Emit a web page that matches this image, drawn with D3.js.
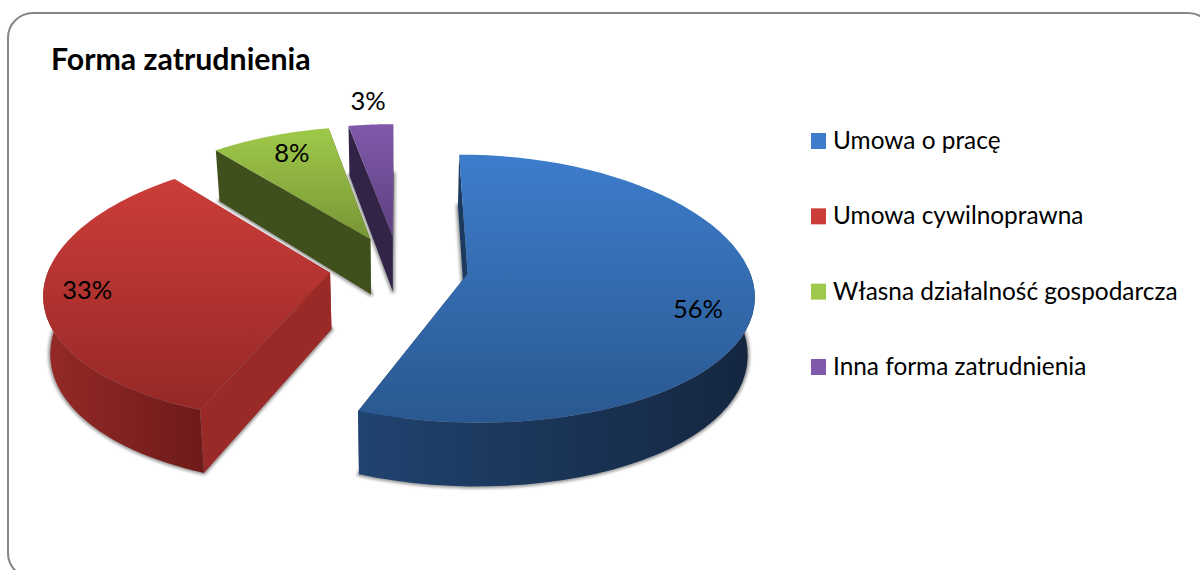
<!DOCTYPE html>
<html>
<head>
<meta charset="utf-8">
<script src="https://cdn.jsdelivr.net/npm/d3@7"></script>
<style>
    html, body { margin: 0; padding: 0; background: #fff; overflow: hidden; }
    text { font-family: Lato, "Open Sans", sans-serif; fill: #000; }
</style>
</head>
<body>
<div id="chart"></div>
<script>
// Data
var chartTitle = "Forma zatrudnienia";
var categories = ["Umowa o pracę", "Umowa cywilnoprawna", "Własna działalność gospodarcza", "Inna forma zatrudnienia"];
var shares = [56, 33, 8, 3];
var shareLabels = ["56%", "33%", "8%", "3%"];

// Colours per slice: top gradient start/end, flat side wall
var topLight = ["#3d7dcc", "#cc3d39", "#9fc94a", "#8059aa"];
var topDark = ["#2a5890", "#952826", "#789636", "#5e4080"];
var wallColors = ["#1c3a60", "#9a2a28", "#40501c", "#322446"];
var rimLeft = ["#20436f", "#952a27", "#40501c", "#322446"];
var rimRight = ["#14263f", "#6e1b1a", "#40501c", "#322446"];

// Label placement: fraction of radius, then a nudge in px
var labelRadius = [0.82, 0.88, 0.7, 1.15];
var labelNudge = [[-4, 15], [9, -1], [-6, -12], [0, -9]];

// Define SVG area dimensions
var svgWidth = 1200;
var svgHeight = 570;

// Pseudo-3D camera numbers fitted to the picture
var centerX = 399;
var centerY = 267.7;
var radiusX = 281;
var radiusY = 131;
var perspX = 0.14;
var perspY = 0.11;
var explode = 0.247;
var depth = 56.5;
var bottomShrink = 0.98;

var svg = d3.select("#chart")
    .append("svg")
    .attr("width", svgWidth)
    .attr("height", svgHeight);

var defs = svg.append("defs");

defs.append("filter")
    .attr("id", "soft")
    .attr("x", "-10%").attr("y", "-10%")
    .attr("width", "120%").attr("height", "120%")
    .append("feGaussianBlur")
    .attr("stdDeviation", 1.6);

// chart frame, runs off the right and bottom of the page
svg.append("rect")
    .attr("x", 8)
    .attr("y", 13)
    .attr("width", 1205)
    .attr("height", 565)
    .attr("rx", 25)
    .attr("fill", "#fff")
    .attr("stroke", "#868686")
    .attr("stroke-width", 2);

svg.append("text")
    .attr("x", 51)
    .attr("y", 70)
    .attr("font-size", 30.3)
    .attr("font-weight", 700)
    .text(chartTitle);

// slice angles, clockwise from the top
var pie = d3.pie().sort(null).startAngle(0).endAngle(2 * Math.PI);
var slices = pie(shares);

// project a point of the pie plane to the screen
function project(angle, radius, slice, bottom) {
    var mid = (slice.startAngle + slice.endAngle) / 2;
    var u = radius * Math.sin(angle) + explode * Math.sin(mid);
    var v = -radius * Math.cos(angle) - explode * Math.cos(mid);
    var sx = 1 / (1 - perspX * v);
    var sy = 1 / (1 - perspY * v);
    var x = radiusX * u * sx;
    var y = centerY + radiusY * v * sy;
    if (bottom) {
        x = x * bottomShrink;
        y = y + depth * sy;
    }
    return [centerX + x, y];
}

function rimPoints(slice, bottom) {
    var steps = d3.range(0, 61).map(d => slice.startAngle + (slice.endAngle - slice.startAngle) * d / 60);
    return steps.map(a => project(a, 1, slice, bottom));
}

var line = d3.line();

function addGradient(id, x1, y1, x2, y2, c1, c2) {
    var g = defs.append("linearGradient")
        .attr("id", id)
        .attr("gradientUnits", "userSpaceOnUse")
        .attr("x1", x1).attr("y1", y1)
        .attr("x2", x2).attr("y2", y2);
    g.append("stop").attr("offset", 0).attr("stop-color", c1);
    g.append("stop").attr("offset", 1).attr("stop-color", c2);
}

var pieGroup = svg.append("g");

// paint back to front: purple, green, red, blue
d3.range(slices.length - 1, -1, -1).forEach(function(i) {
    var s = slices[i];
    var apexTop = project(0, 0, s, false);
    var apexBottom = project(0, 0, s, true);
    var top = rimPoints(s, false);
    var bottom = rimPoints(s, true);
    var g = pieGroup.append("g");

    // soft shadow under the slice
    g.append("path")
        .attr("d", line([apexBottom].concat(bottom)) + "Z")
        .attr("fill", "#555")
        .attr("stroke", "#555")
        .attr("stroke-width", 4)
        .attr("stroke-linejoin", "round")
        .attr("opacity", 0.6)
        .attr("filter", "url(#soft)");

    // the two straight walls
    [0, top.length - 1].forEach(function(k) {
        g.append("path")
            .attr("d", line([apexTop, top[k], bottom[k], apexBottom]) + "Z")
            .attr("fill", wallColors[i]);
    });

    // round outer wall, only the part that faces the viewer
    var xs = d3.extent(top, d => d[0]);
    addGradient("rim" + i, xs[0], 0, xs[1], 0, rimLeft[i], rimRight[i]);
    var front = d3.range(top.length).filter(k => {
        var a = s.startAngle + (s.endAngle - s.startAngle) * k / 60;
        return Math.cos(a) < 0.08;
    });
    if (front.length > 1) {
        var rimPath = front.map(k => top[k]).concat(front.slice().reverse().map(k => bottom[k]));
        g.append("path")
            .attr("d", line(rimPath) + "Z")
            .attr("fill", "url(#rim" + i + ")");
    }

    // top face
    var ys = d3.extent(top.concat([apexTop]), d => d[1]);
    addGradient("top" + i, 0, ys[0], 0, ys[1], topLight[i], topDark[i]);
    g.append("path")
        .attr("d", line([apexTop].concat(top)) + "Z")
        .attr("fill", "url(#top" + i + ")");
});

// percent labels
svg.append("g")
    .selectAll("text")
    .data(slices)
    .enter()
    .append("text")
    .attr("text-anchor", "middle")
    .attr("font-size", 25.5)
    .attr("x", (d, i) => project((d.startAngle + d.endAngle) / 2, labelRadius[i], d, false)[0] + labelNudge[i][0])
    .attr("y", (d, i) => project((d.startAngle + d.endAngle) / 2, labelRadius[i], d, false)[1] + labelNudge[i][1] + 9)
    .text((d, i) => shareLabels[i]);

// legend
var legendY = d3.scalePoint().domain(categories).range([141, 367]);

var legend = svg.append("g")
    .selectAll("g")
    .data(categories)
    .enter()
    .append("g")
    .attr("transform", d => `translate(811, ${legendY(d)})`);

categories.forEach(function(c, i) {
    var y = legendY(c);
    addGradient("swatch" + i, 0, y - 8, 0, y + 8, topLight[i], topDark[i]);
});

legend.append("rect")
    .attr("x", 0)
    .attr("y", -8)
    .attr("width", 15)
    .attr("height", 16)
    .attr("fill", (d, i) => "url(#swatch" + i + ")");

legend.append("text")
    .attr("x", 22)
    .attr("y", 8)
    .attr("font-size", 24.4)
    .text(d => d);
</script>
</body>
</html>
